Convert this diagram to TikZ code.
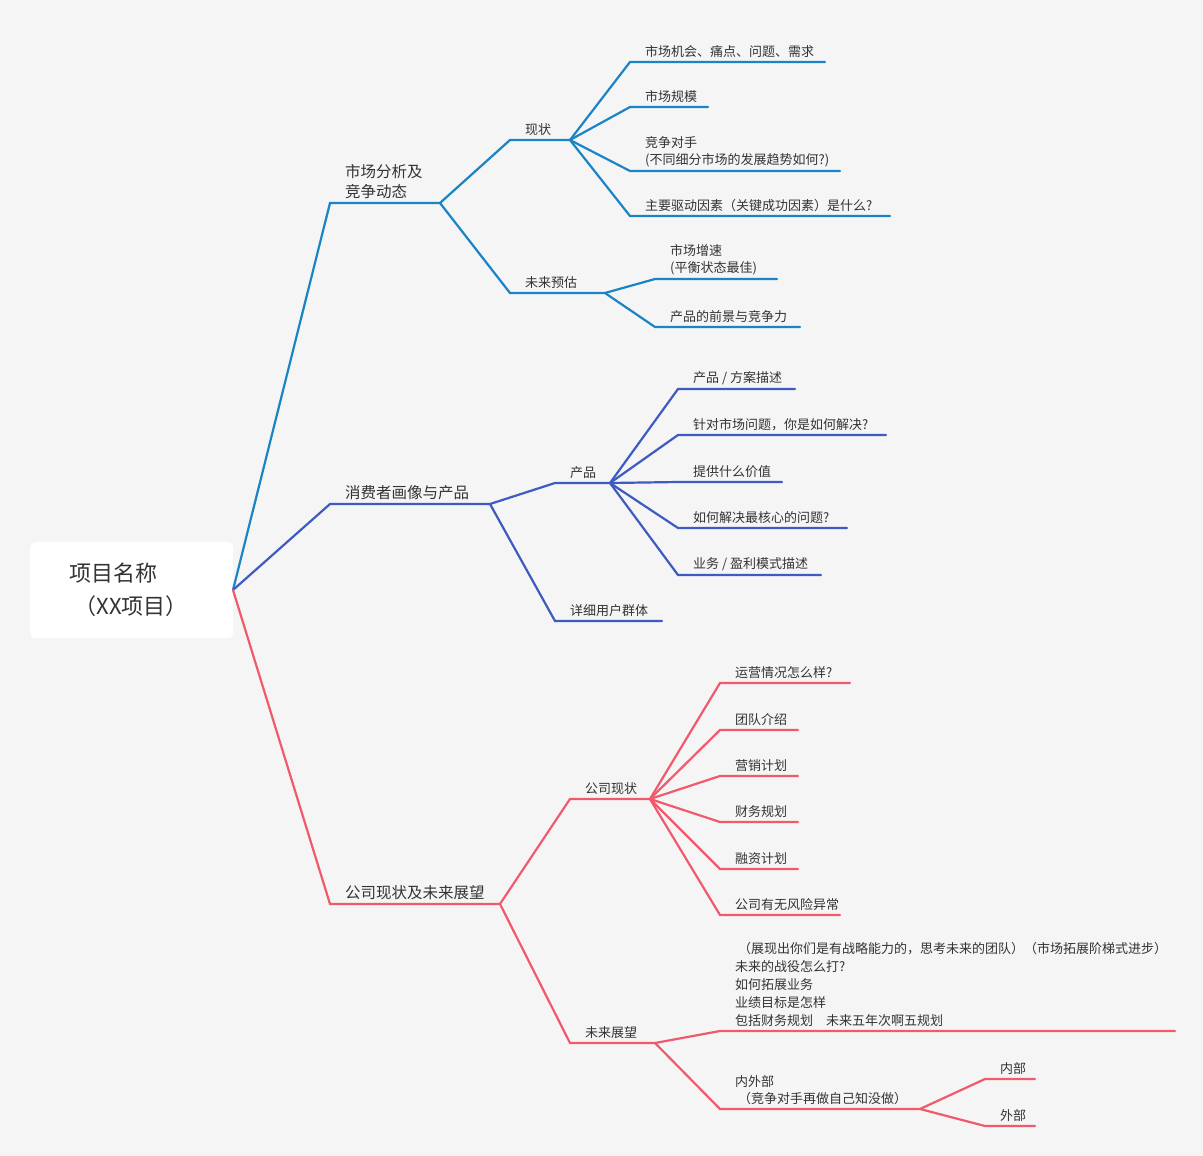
\documentclass[tikz,border=0pt]{standalone}
\usepackage{fontspec}
\setmainfont{Noto Sans CJK SC}
\definecolor{bg}{HTML}{F5F5F5}
\definecolor{cblue}{HTML}{1A84C6}
\definecolor{cmid}{HTML}{3D5BC0}
\definecolor{cred}{HTML}{F05A6C}
\definecolor{tx}{HTML}{333333}
\tikzset{lnk/.style={line width=2.2pt,line cap=round},
 lbl/.style={anchor=south west,inner sep=0pt,font=\fontsize{13}{17}\selectfont,text=tx,align=left},
 blbl/.style={lbl,font=\fontsize{15.5}{20}\selectfont}}
\newcommand{\br}[8]{%
 \coordinate (#3-s) at (#4,#6); \coordinate (#3-e) at (#5,#6);
 \draw[lnk,#1] (#2-e) .. controls ($(#2-e)!0.5!(#3-s)$ |- #2-e) and ($(#2-e)!0.5!(#3-s)$ |- #3-s) .. (#3-s) -- (#3-e);
 \node[#8] (#3-t) at ([xshift=15pt,yshift=4pt]#3-s) {#7};}
\usetikzlibrary{calc}
\begin{document}
\begin{tikzpicture}[x=1pt,y=-1pt]
\fill[bg] (0,0) rectangle (1203,1156);
\useasboundingbox (0,0) rectangle (1203,1156);
\node[fill=white,rounded corners=5pt,minimum width=203pt,minimum height=96pt,anchor=north west] (root) at (30,542) {};
\node[font=\fontsize{22}{33}\selectfont,text=tx,align=left,anchor=west] (rt) at (66,590) {项目名称\\\ （XX项目）};
\coordinate (r-e) at (233,590);
\br{cblue}{r}{a}{330}{440}{203}{市场分析及\\竞争动态}{blbl}
\br{cblue}{a}{a1}{510}{570}{140}{现状}{lbl}
\br{cblue}{a1}{a11}{630}{825}{62}{市场机会、痛点、问题、需求}{lbl}
\br{cblue}{a1}{a12}{630}{708}{107}{市场规模}{lbl}
\br{cblue}{a1}{a13}{630}{840}{171}{竞争对手\\(不同细分市场的发展趋势如何?)}{lbl}
\br{cblue}{a1}{a14}{630}{890}{216}{主要驱动因素（关键成功因素）是什么?}{lbl}
\br{cblue}{a}{a2}{510}{605}{293}{未来预估}{lbl}
\br{cblue}{a2}{a21}{655}{777}{279}{市场增速\\(平衡状态最佳)}{lbl}
\br{cblue}{a2}{a22}{655}{800}{327}{产品的前景与竞争力}{lbl}
\br{cmid}{r}{b}{330}{490}{504}{消费者画像与产品}{blbl}
\br{cmid}{b}{b1}{555}{610}{483}{产品}{lbl}
\br{cmid}{b1}{b11}{678}{795}{389}{产品 / 方案描述}{lbl}
\br{cmid}{b1}{b12}{678}{886}{435}{针对市场问题，你是如何解决?}{lbl}
\br{cmid}{b1}{b13}{678}{782}{482}{提供什么价值}{lbl}
\br{cmid}{b1}{b14}{678}{847}{528}{如何解决最核心的问题?}{lbl}
\br{cmid}{b1}{b15}{678}{821}{575}{业务 / 盈利模式描述}{lbl}
\br{cmid}{b}{b2}{555}{662}{621}{详细用户群体}{lbl}
\br{cred}{r}{c}{330}{500}{904}{公司现状及未来展望}{blbl}
\br{cred}{c}{c1}{570}{650}{799}{公司现状}{lbl}
\br{cred}{c1}{c11}{720}{850}{683}{运营情况怎么样?}{lbl}
\br{cred}{c1}{c12}{720}{798}{730}{团队介绍}{lbl}
\br{cred}{c1}{c13}{720}{798}{776}{营销计划}{lbl}
\br{cred}{c1}{c14}{720}{798}{822}{财务规划}{lbl}
\br{cred}{c1}{c15}{720}{798}{869}{融资计划}{lbl}
\br{cred}{c1}{c16}{720}{840}{915}{公司有无风险异常}{lbl}
\br{cred}{c}{c2}{570}{655}{1043}{未来展望}{lbl}
\br{cred}{c2}{c21}{720}{1175}{1031}{\ （展现出你们是有战略能力的，思考未来的团队）（市场拓展阶梯式进步）\\未来的战役怎么打?\\如何拓展业务\\业绩目标是怎样\\包括财务规划\quad 未来五年次啊五规划}{lbl,font=\fontsize{13}{18}\selectfont}
\br{cred}{c2}{c22}{720}{920}{1109}{内外部\\\ （竞争对手再做自己知没做）}{lbl}
\br{cred}{c22}{c221}{985}{1035}{1079}{内部}{lbl}
\br{cred}{c22}{c222}{985}{1035}{1126}{外部}{lbl}
\end{tikzpicture}
\end{document}
